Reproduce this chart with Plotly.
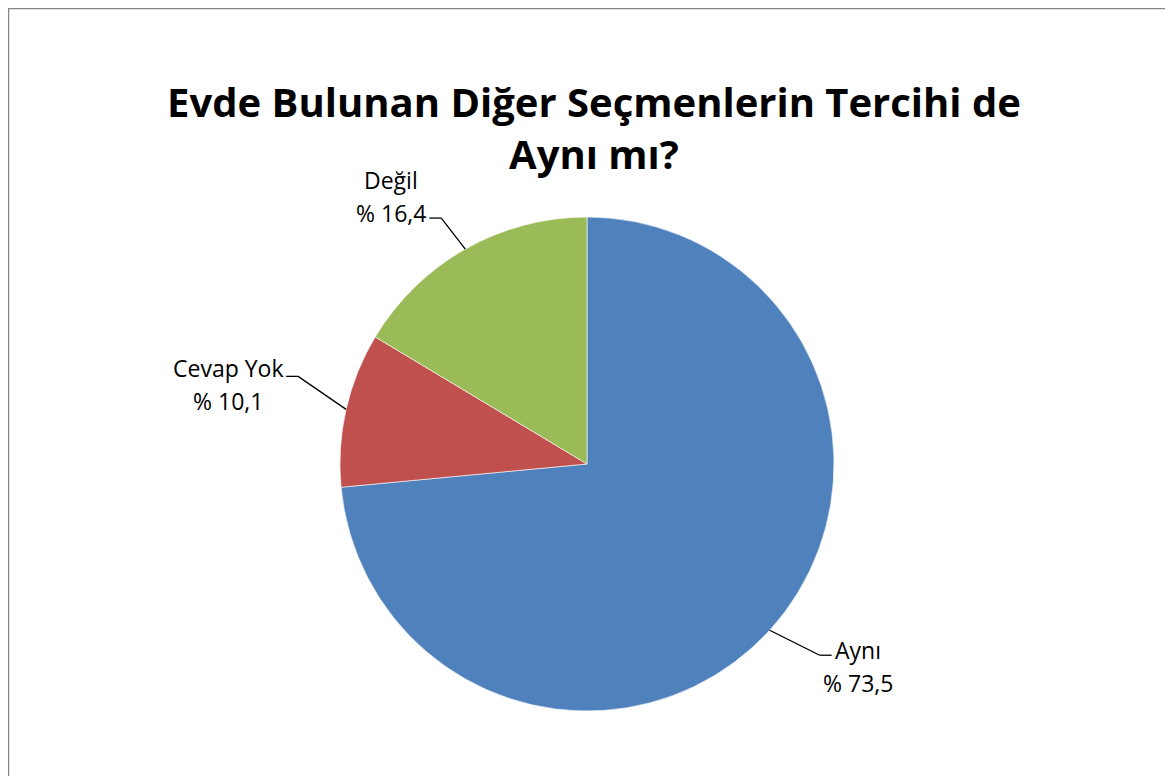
import math

import plotly.graph_objects as go

# the page puts the figure 8px in from the top-left corner
OFF = 8
W, H = 1173 - OFF, 776 - OFF

title = "Evde Bulunan Diğer Seçmenlerin Tercihi de<br>Aynı mı?"
labels = ["Aynı", "Cevap Yok", "Değil"]
values = [73.5, 10.1, 16.4]
colors = ["#4F81BD", "#C0504D", "#9BBB59"]

# pie placement in page pixels (center + radius)
CX, CY, R = 587, 464, 247
FONT = "Open Sans, Lato, sans-serif"

# label layout: leader knee offset from the slice edge, text centre offset from the knee end
KNEE = [(50, 25), (-48, -33), (-24, -31)]
TEXT_DX = [26, -58, -38]
TEXT_DY = [-5, -8, -38]


def px(x):
    return (x - OFF) / W


def py(y):
    return 1 - (y - OFF) / H


fig = go.Figure(
    go.Pie(
        labels=labels,
        values=values,
        marker=dict(colors=colors, line=dict(color="white", width=0.6)),
        sort=False,
        direction="clockwise",
        rotation=0,
        textinfo="none",
        hoverinfo="label+value",
        showlegend=False,
        domain=dict(x=[px(CX - R), px(CX + R)], y=[py(CY + R), py(CY - R)]),
    )
)

# leader lines + two-line labels, starting at the slice mid angles
shapes = []
annotations = []
total = sum(values)
cum = 0.0
for lab, val, (kx, ky), tdx, tdy in zip(labels, values, KNEE, TEXT_DX, TEXT_DY):
    mid = (cum + val / 2) / total * 2 * math.pi
    cum += val
    sx, sy = CX + R * math.sin(mid), CY - R * math.cos(mid)
    ex, ey = sx + kx, sy + ky
    side = 1 if kx > 0 else -1
    hx = ex + side * 12
    for x0, y0, x1, y1 in [(sx, sy, ex, ey), (ex, ey, hx, ey)]:
        shapes.append(dict(type="line", xref="paper", yref="paper",
                           x0=px(x0), y0=py(y0), x1=px(x1), y1=py(y1),
                           line=dict(color="black", width=1.3)))
    lines = [lab, f"% {val:.1f}".replace(".", ",")]
    for i, t in enumerate(lines):
        annotations.append(dict(
            x=px(hx + tdx), y=py(ey + tdy + 33 * i), xref="paper", yref="paper",
            text=t, showarrow=False, xanchor="center", yanchor="middle",
            font=dict(family=FONT, size=23, color="black"),
        ))

# outer chart border
shapes.append(dict(type="rect", xref="paper", yref="paper",
                   x0=px(8.5), x1=px(1166), y0=py(800), y1=py(8.5),
                   line=dict(color="#868686", width=1.5)))

fig.update_layout(
    width=W,
    height=H,
    margin=dict(l=0, r=0, t=0, b=0),
    paper_bgcolor="white",
    plot_bgcolor="white",
    title=dict(
        text=title,
        x=px(594),
        xanchor="center",
        y=py(117),
        yanchor="top",
        font=dict(family=FONT, size=40, color="black", weight="bold"),
    ),
    shapes=shapes,
    annotations=annotations,
)

fig.write_html("out.html")
